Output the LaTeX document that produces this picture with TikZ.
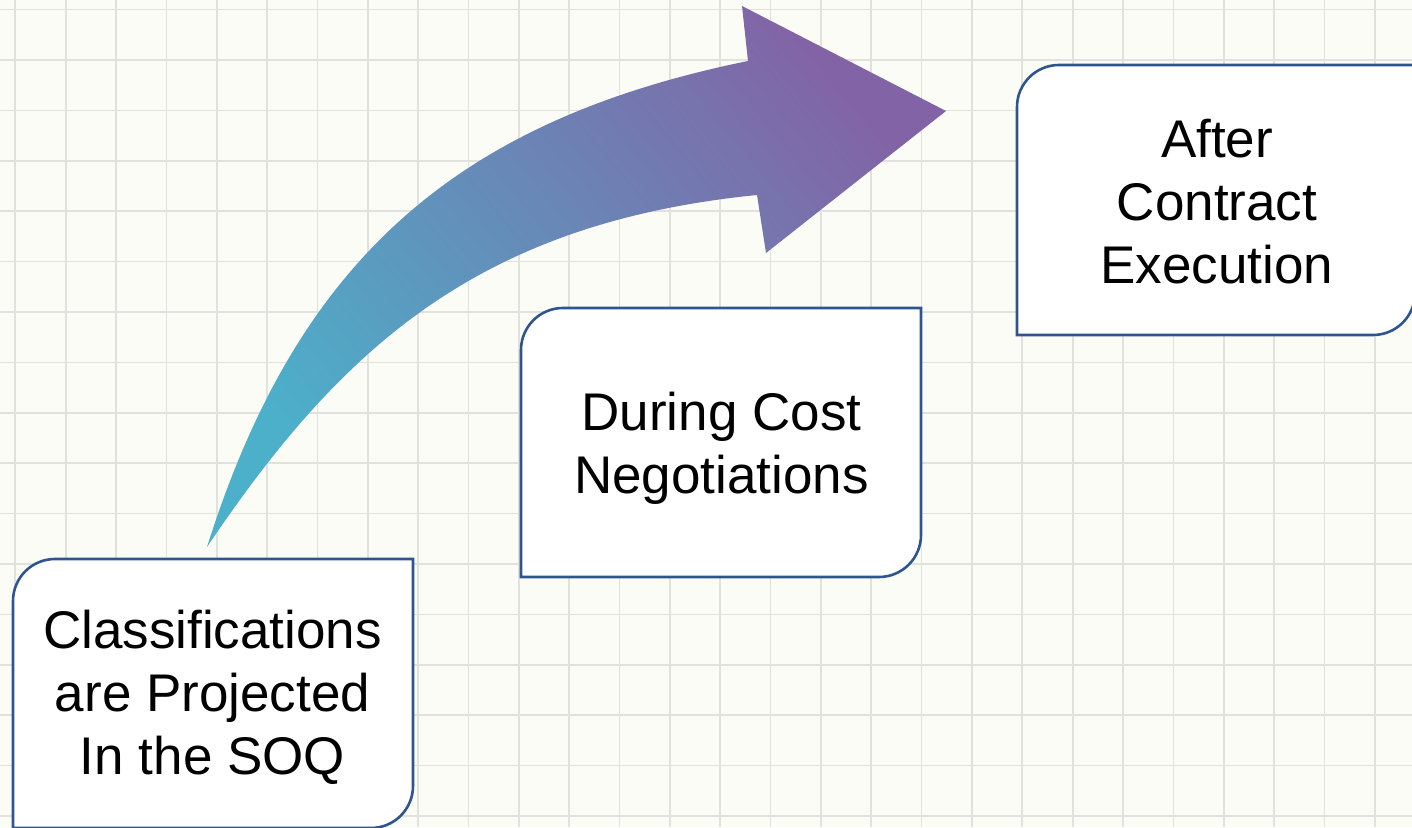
\documentclass[tikz,border=0pt]{standalone}
\usepackage{fontspec}
\setmainfont{Liberation Sans}
\usetikzlibrary{shadings}
\pgfdeclarelayer{gridlayer}
\pgfdeclarelayer{boxlayer}
\pgfsetlayers{gridlayer,boxlayer,main}

\definecolor{paper}{RGB}{252,252,247}
\definecolor{gridgray}{RGB}{225,225,221}
\definecolor{boxblue}{RGB}{47,85,143}
\definecolor{arrowteal}{RGB}{76,176,202}
\definecolor{arrowpurple}{RGB}{130,100,166}

\tikzset{
  gridline/.style={draw=gridgray, line width=1.7pt},
  boxline/.style={draw=boxblue, fill=white, line width=2.6pt},
  boxtext/.style={align=center, inner sep=0pt, text=black,
    font=\fontsize{53}{63}\selectfont},
  arrowfill/.style={bottom color=arrowteal, top color=arrowpurple,
    shading angle=-50}
}

\begin{document}
\begin{tikzpicture}[x=1pt, y=1pt]
  \useasboundingbox (0,0) rectangle (1412,827);
  \clip (0,0) rectangle (1412,827);

  % graph paper
  \begin{pgfonlayer}{gridlayer}
    \fill[paper] (0,0) rectangle (1412,827);
    \foreach \i in {0,...,28}
      \draw[gridline] ({15.3+50.35*\i},0) -- ++(0,827);
    \foreach \j in {0,...,16}
      \draw[gridline] (0,{817.4-50.4*\j}) -- ++(1412,0);
  \end{pgfonlayer}

  % step labels
  \node[boxtext] (soq) at (212.5,130)
    {Classifications\\are Projected\\In the SOQ};
  \node[boxtext] (cost) at (721.5,379)
    {During Cost\\Negotiations};
  \node[boxtext] (exec) at (1217,625)
    {After\\Contract\\Execution};

  % step boxes: rounded top-left and bottom-right corners
  \begin{pgfonlayer}{boxlayer}
    \path[boxline] (13,226) arc[start angle=180, end angle=90, radius=42]
      -- (413,268) -- (413,41) arc[start angle=0, end angle=-90, radius=42]
      -- (13,-1) -- cycle;
    \path[boxline] (521,477) arc[start angle=180, end angle=90, radius=42]
      -- (921,519) -- (921,292) arc[start angle=0, end angle=-90, radius=42]
      -- (521,250) -- cycle;
    \path[boxline] (1017,720) arc[start angle=180, end angle=90, radius=42]
      -- (1415,762) -- (1415,534) arc[start angle=0, end angle=-90, radius=42]
      -- (1017,492) -- cycle;
  \end{pgfonlayer}

  % curved progress arrow
  \coordinate (tail) at (207,280);
  \coordinate (outerend) at (748,766);
  \coordinate (headtop) at (742,821);
  \coordinate (tip) at (946,716);
  \coordinate (headbottom) at (766,574);
  \coordinate (innerend) at (757,632);
  \shade[arrowfill] (tail)
    .. controls (297,565) and (454,706) .. (outerend)
    -- (headtop) -- (tip) -- (headbottom) -- (innerend)
    .. controls (478,604) and (341,479) .. (tail) -- cycle;
\end{tikzpicture}
\end{document}
